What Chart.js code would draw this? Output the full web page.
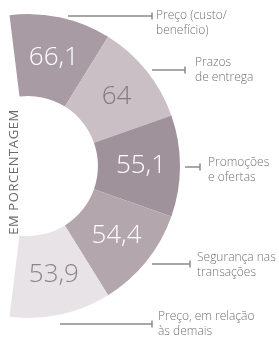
<!DOCTYPE html>
<html>
<head>
<meta charset="utf-8">
<script src="https://cdn.jsdelivr.net/npm/chart.js@4.4.0/dist/chart.umd.min.js"></script>
<style>
  html, body { margin: 0; padding: 0; background: #fff; }
  #wrap { position: relative; width: 279px; height: 344px; }
</style>
</head>
<body>
<div id="wrap"><canvas id="grafico" width="279" height="344"></canvas></div>
<script>
const categorias = [
    ['Preço (custo/', 'benefício)'],
    ['Prazos', 'de entrega'],
    ['Promoções', 'e ofertas'],
    ['Segurança nas', 'transações'],
    ['Preço, em relação', 'às demais']
];
const valores = [66.1, 64, 55.1, 54.4, 53.9];
// todas las porciones del mismo tamaño en el original
const pesos = [1, 1, 1, 1, 1];
const colores = ['#a99ba3', '#c9bfc4', '#a0929a', '#b3a6ad', '#e8e3e6'];
const coloresTexto = ['#ffffff', '#85787f', '#ffffff', '#ffffff', '#8f8389'];

// posiciones de las etiquetas y líneas guía (x1, x2, y, textoX, textoY)
const guias = [
    [68, 152, 16, 156, 16],
    [152, 185, 70, 195, 63],
    [185, 200, 167, 208, 163],
    [152, 190, 264, 197, 258],
    [60, 152, 324, 158, 317]
];

const etiquetas = {
    id: 'etiquetas',
    afterDraw(chart) {
        const ctx = chart.ctx;
        const arcos = chart.getDatasetMeta(0).data;
        ctx.save();
        ctx.textAlign = 'center';
        ctx.textBaseline = 'middle';
        ctx.font = '300 26px "Open Sans", sans-serif';
        arcos.forEach((arco, i) => {
            const p = arco.getCenterPoint();
            ctx.fillStyle = coloresTexto[i];
            ctx.fillText(String(valores[i]).replace('.', ','), p.x + 2, p.y);
        });

        ctx.strokeStyle = '#8a8a8a';
        ctx.lineWidth = 1.5;
        ctx.fillStyle = '#727272';
        ctx.textAlign = 'left';
        ctx.font = '300 12px "Open Sans", sans-serif';
        guias.forEach((g, i) => {
            ctx.beginPath();
            ctx.moveTo(g[0], g[2]);
            ctx.lineTo(g[1], g[2]);
            ctx.moveTo(g[1], g[2] - 3.5);
            ctx.lineTo(g[1], g[2] + 3.5);
            ctx.stroke();
            categorias[i].forEach((linea, j) => {
                ctx.fillText(linea, g[3], g[4] + j * 15);
            });
        });

        ctx.translate(14, 172);
        ctx.rotate(-Math.PI / 2);
        ctx.textAlign = 'center';
        ctx.fillStyle = '#6a6a6a';
        ctx.font = '13px "Open Sans", sans-serif';
        ctx.letterSpacing = '0.6px';
        ctx.fillText('EM PORCENTAGEM', 0, 0);
        ctx.restore();
    }
};

new Chart(document.querySelector('#grafico'), {
    type: 'doughnut',
    data: {
        labels: categorias.map(c => c.join(' ')),
        datasets: [{
            data: pesos,
            backgroundColor: colores,
            borderWidth: 0,
            hoverOffset: 0
        }]
    },
    options: {
        responsive: false,
        animation: false,
        rotation: -7,
        circumference: 194,
        cutout: '46%',
        layout: {
            padding: { left: 9.5, top: 14, right: 99, bottom: 26 }
        },
        plugins: {
            legend: { display: false },
            tooltip: { enabled: false }
        }
    },
    plugins: [etiquetas]
});
</script>
</body>
</html>
